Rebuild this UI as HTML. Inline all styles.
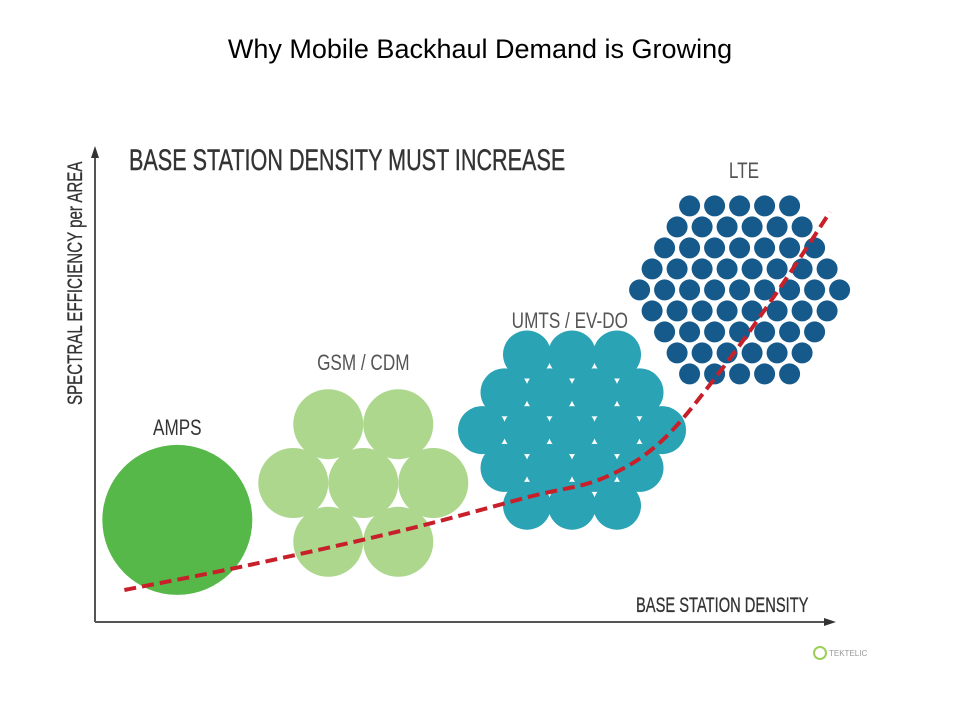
<!DOCTYPE html>
<html><head><meta charset="utf-8"><style>
body{margin:0;background:#fff;width:960px;height:720px;overflow:hidden}
svg{display:block}
</style></head><body>
<svg id="chart" width="960" height="720" viewBox="0 0 960 720">
  <text x="480" y="58" text-anchor="middle" font-family="Liberation Sans, sans-serif" font-size="27" fill="#000">Why Mobile Backhaul Demand is Growing</text>
  <text x="0" y="0" font-family="Liberation Sans, sans-serif" font-size="30" fill="#333" stroke="#333" stroke-width="0.4" transform="translate(129 170) scale(0.72 1)">BASE STATION DENSITY MUST INCREASE</text>
  <g>
    <line x1="95" y1="622" x2="95" y2="155" stroke="#555" stroke-width="2"/>
    <polygon points="95,146 91,158 99,158" fill="#333"/>
  </g>
  <g>
    <line x1="95" y1="622" x2="826" y2="622" stroke="#555" stroke-width="2"/>
    <polygon points="836,622 824,618 824,626" fill="#333"/>
  </g>
  <text x="0" y="0" font-family="Liberation Sans, sans-serif" font-size="21" fill="#333" stroke="#333" stroke-width="0.3" transform="translate(82 405) rotate(-90) scale(0.72 1)">SPECTRAL EFFICIENCY per AREA</text>
  <text x="0" y="0" font-family="Liberation Sans, sans-serif" font-size="21" fill="#333" stroke="#333" stroke-width="0.3" transform="translate(636 612) scale(0.70 1)">BASE STATION DENSITY</text>
  <g id="clusters"></g>
  <path id="curve" fill="none" stroke="#c8202a" stroke-width="4" stroke-dasharray="12 6"/>
  <g>
    <circle cx="820" cy="653" r="6" fill="none" stroke="#9ccf5a" stroke-width="2"/>
    <text x="829" y="656" font-family="Liberation Sans, sans-serif" font-size="8" fill="#999">TEKTELIC</text>
  </g>
</svg>
<script>
// Cluster data (centre position in axis units 0-100, hex rings, circle radius)
const clusterNames = ["AMPS", "GSM / CDM", "UMTS / EV-DO", "LTE"];
const clusterX = [11.2, 36.5, 64.9, 87.7];
const clusterY = [24.9, 33.9, 46.8, 81.0];
const clusterRings = [0, 1, 2, 4];
const clusterRadius = [75, 35, 24, 10.5];
const clusterSpacing = [0, 70, 45, 25];
const clusterColors = ["#55b848", "#acd78d", "#2aa3b4", "#165a8c"];
const labelX = [11.2, 36.5, 64.6, 88.3];
const labelY = [45.6, 61.5, 71.7, 108.3];
// Demand curve (axis units)
const curveX = [4, 21, 42, 59, 69, 77, 85, 93, 100];
const curveY = [7.8, 13.9, 22.4, 30.5, 35, 44, 61, 81, 100];

const X0 = 95, X1 = 830, Y0 = 622, Y1 = 212;
const xs = v => X0 + (X1 - X0) * v / 100;
const ys = v => Y0 - (Y0 - Y1) * v / 100;
const NS = "http://www.w3.org/2000/svg";
const g = document.getElementById("clusters");

clusterNames.forEach((name, i) => {
  const cx = xs(clusterX[i]), cy = ys(clusterY[i]);
  const n = clusterRings[i], s = clusterSpacing[i];
  const grp = document.createElementNS(NS, "g");
  
  
  for (let r = -n; r <= n; r++) {
    const cnt = 2 * n + 1 - Math.abs(r);
    for (let k = 0; k < cnt; k++) {
      const px = cx + (k - (cnt - 1) / 2) * s;
      const py = cy + r * s * 0.84;
      const c = document.createElementNS(NS, "circle");
      c.setAttribute("cx", px); c.setAttribute("cy", py);
      c.setAttribute("r", clusterRadius[i]);
      c.setAttribute("fill", clusterColors[i]);
      
      
      grp.appendChild(c);
    }
  }
  g.appendChild(grp);
  const t = document.createElementNS(NS, "text");
  t.setAttribute("transform", `translate(${xs(labelX[i])} ${ys(labelY[i])}) scale(0.78 1)`);
  t.setAttribute("text-anchor", "middle");
  t.setAttribute("font-family", "Liberation Sans, sans-serif");
  t.setAttribute("font-size", "22");
  t.setAttribute("fill", i === 0 ? "#333" : "#555");
  t.textContent = name;
  
  
  g.appendChild(t);
});

// Smooth curve through points (Catmull-Rom)
const pts = curveX.map((v, i) => [xs(v), ys(curveY[i])]);
let d = `M${pts[0][0]},${pts[0][1]}`;
for (let i = 0; i < pts.length - 1; i++) {
  const p0 = pts[Math.max(0, i - 1)], p1 = pts[i], p2 = pts[i + 1], p3 = pts[Math.min(pts.length - 1, i + 2)];
  const c1 = [p1[0] + (p2[0] - p0[0]) / 6, p1[1] + (p2[1] - p0[1]) / 6];
  const c2 = [p2[0] - (p3[0] - p1[0]) / 6, p2[1] - (p3[1] - p1[1]) / 6];
  d += ` C${c1[0]},${c1[1]} ${c2[0]},${c2[1]} ${p2[0]},${p2[1]}`;
}
document.getElementById("curve").setAttribute("d", d);
</script>
</body></html>
